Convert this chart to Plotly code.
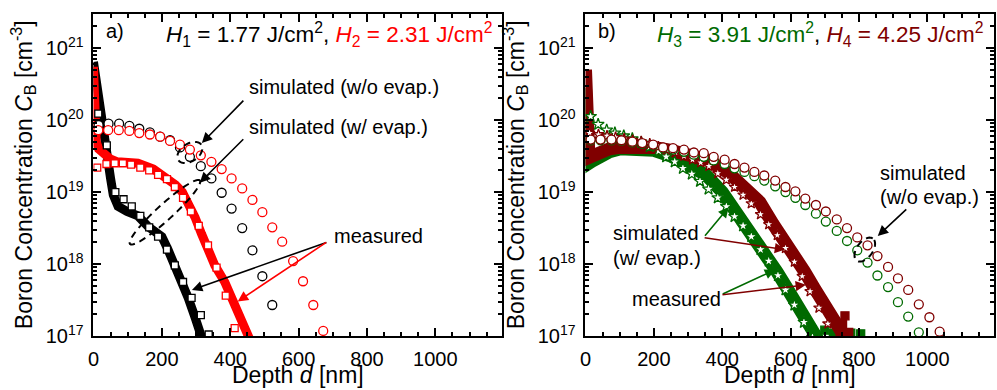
import math
import numpy as np
import plotly.graph_objects as go

# ---------------- data (depth in nm, concentration as log10(C / cm^-3)) ----------------
# Panel a
h1_meas_d   = [0, 10, 18, 29, 40, 50, 58, 72, 98, 130, 160, 200, 218, 238, 262, 277, 297, 316, 322]
h1_meas_log = [20.81, 20.45, 20.13, 19.81, 19.5, 19.19, 18.96, 18.8, 18.73, 18.67, 18.52, 18.38, 18.2, 17.98, 17.75, 17.53, 17.26, 17.0, 16.9]
h2_meas_d   = [0, 2, 4, 8, 15, 29, 49, 70, 100, 130, 175, 215, 240, 260, 280, 297, 316, 335, 355, 384, 404, 422, 442, 456, 462]
h2_meas_log = [20.74, 20.2, 19.8, 19.7, 19.6, 19.53, 19.46, 19.42, 19.42, 19.4, 19.32, 19.2, 19.1, 19.0, 18.84, 18.65, 18.42, 18.2, 17.98, 17.75, 17.53, 17.3, 17.07, 16.98, 16.9]

h1_evap_d   = [14, 39, 64, 88, 112, 137, 163, 189, 215, 238, 262, 287, 314, 337]
h1_evap_log = [20.09, 19.65, 19.0, 18.9, 18.8, 18.67, 18.51, 18.38, 18.2, 17.98, 17.75, 17.53, 17.29, 17.02]
h2_evap_d   = [11, 38, 62, 86, 110, 137, 163, 189, 215, 238, 262, 285, 308, 335, 360, 387, 413]
h2_evap_log = [19.34, 19.39, 19.4, 19.4, 19.38, 19.34, 19.3, 19.24, 19.18, 19.07, 18.92, 18.73, 18.53, 18.26, 17.95, 17.56, 17.11]

h1_noev_d   = [15, 44, 75, 105, 134, 165, 195, 224, 253, 282, 314, 345, 375, 404, 435, 465, 494, 523]
h1_noev_log = [19.93, 19.95, 19.95, 19.92, 19.88, 19.83, 19.77, 19.72, 19.62, 19.49, 19.36, 19.19, 18.99, 18.77, 18.5, 18.19, 17.83, 17.43]
h2_noev_d   = [14, 43, 74, 105, 134, 165, 195, 224, 253, 282, 314, 345, 375, 404, 435, 465, 494, 523, 552, 584, 613, 643, 672]
h2_noev_log = [19.86, 19.86, 19.86, 19.85, 19.82, 19.8, 19.77, 19.71, 19.66, 19.59, 19.51, 19.42, 19.32, 19.19, 19.05, 18.89, 18.72, 18.51, 18.31, 18.04, 17.76, 17.43, 17.07]

# Panel b
h3_meas_d   = [0, 2, 5, 10, 20, 40, 70, 100, 150, 200, 250, 300, 352, 400, 432, 465, 497, 530, 560, 590, 616, 640, 665, 680]
h3_meas_log = [20.45, 20.0, 19.45, 19.4, 19.43, 19.5, 19.56, 19.6, 19.61, 19.58, 19.5, 19.38, 19.24, 19.0, 18.79, 18.56, 18.34, 18.1, 17.89, 17.66, 17.44, 17.24, 17.03, 16.95]
h3_meas_xd  = [700, 725, 776, 805]
h3_meas_xl  = [17.08, 17.04, 17.04, 17.03]
h4_meas_d   = [0, 2, 5, 10, 20, 40, 70, 100, 150, 200, 250, 300, 360, 420, 476, 510, 548, 580, 613, 640, 670, 700, 727, 745, 760]
h4_meas_log = [20.7, 20.1, 19.55, 19.48, 19.5, 19.56, 19.6, 19.62, 19.63, 19.62, 19.58, 19.52, 19.44, 19.26, 19.03, 18.86, 18.56, 18.35, 18.11, 17.9, 17.66, 17.42, 17.21, 17.08, 16.97]
h4_meas_xd  = [752, 759, 770]
h4_meas_xl  = [17.17, 17.28, 17.05]

h3_evap_d   = [15, 37, 62, 86, 112, 137, 163, 188, 214, 236, 261, 285, 311, 335, 360, 387, 412, 436, 461, 485, 512, 536, 563, 585, 611, 639, 664]
h3_evap_log = [20.05, 19.94, 19.86, 19.82, 19.78, 19.74, 19.69, 19.63, 19.57, 19.49, 19.42, 19.33, 19.25, 19.15, 19.04, 18.92, 18.8, 18.66, 18.53, 18.38, 18.2, 18.04, 17.84, 17.64, 17.43, 17.19, 16.98]
h4_evap_d   = [12, 38, 63, 88, 113, 138, 163, 188, 213, 238, 263, 288, 313, 337, 361, 387, 412, 436, 461, 485, 512, 536, 561, 585, 611, 634, 657, 683, 709, 735]
h4_evap_log = [19.82, 19.8, 19.78, 19.76, 19.74, 19.72, 19.7, 19.67, 19.63, 19.59, 19.55, 19.5, 19.45, 19.41, 19.36, 19.26, 19.17, 19.07, 18.96, 18.84, 18.69, 18.55, 18.4, 18.22, 18.03, 17.83, 17.62, 17.39, 17.17, 16.95]

h4_noev_d   = [15, 44, 76, 105, 137, 166, 198, 227, 256, 288, 317, 346, 375, 407, 436, 465, 494, 523, 555, 585, 614, 643, 674, 703, 735, 765, 795, 825, 854, 885, 914, 944, 975, 1006, 1036]
h4_noev_log = [19.73, 19.73, 19.73, 19.72, 19.7, 19.68, 19.66, 19.62, 19.61, 19.59, 19.55, 19.54, 19.49, 19.45, 19.39, 19.34, 19.28, 19.23, 19.16, 19.07, 19.01, 18.91, 18.82, 18.73, 18.62, 18.5, 18.37, 18.26, 18.11, 17.96, 17.8, 17.64, 17.44, 17.26, 17.06]
h3_noev_d   = [15, 44, 76, 105, 137, 166, 198, 227, 256, 288, 317, 346, 375, 407, 436, 465, 494, 523, 555, 585, 614, 643, 674, 703, 735, 765, 795, 825, 854, 885, 914, 944, 975]
h3_noev_log = [19.72, 19.72, 19.72, 19.71, 19.69, 19.67, 19.65, 19.61, 19.59, 19.56, 19.52, 19.49, 19.44, 19.39, 19.33, 19.28, 19.22, 19.16, 19.08, 19.0, 18.92, 18.82, 18.7, 18.59, 18.46, 18.32, 18.19, 18.02, 17.84, 17.68, 17.47, 17.27, 17.05]

# ---------------- style / layout ----------------
BLACK, RED, GREEN, DRED = "#000000", "#ff0000", "#006a00", "#800000"
FONT = "Liberation Sans, Arial, sans-serif"
W, H = 997, 390


def PX(x):
    return x / W


def PY(y):
    return 1 - y / H


XDOM_A = (PX(88), PX(499))
XDOM_B = (PX(583), PX(994))
YDOM = (PY(345.7), PY(14))
XR = (0, 1195)
YR = (17, 21.48)


def c(v):
    return [10.0 ** x for x in v]


fig = go.Figure()


def meas(xa, ya, d, lg, col, w):
    fig.add_trace(go.Scatter(x=d, y=c(lg), mode="lines", line=dict(color=col, width=w),
                             xaxis=xa, yaxis=ya, showlegend=False, hoverinfo="skip"))


def pts(xa, ya, d, lg, col, sym, size, filled=False):
    fig.add_trace(go.Scatter(x=d, y=c(lg), mode="markers",
                             marker=dict(symbol=sym, size=size, color=col if filled else "white",
                                         line=dict(color=col, width=1.3)),
                             xaxis=xa, yaxis=ya, showlegend=False, cliponaxis=True))

# panel a
meas("x", "y", h1_meas_d, h1_meas_log, BLACK, 9)
meas("x", "y", h2_meas_d, h2_meas_log, RED, 9)
pts("x", "y", h1_evap_d, h1_evap_log, BLACK, "square", 7)
pts("x", "y", h2_evap_d, h2_evap_log, RED, "square", 7)
pts("x", "y", h1_noev_d, h1_noev_log, BLACK, "circle", 9)
pts("x", "y", h2_noev_d, h2_noev_log, RED, "circle", 9)

# panel b
meas("x2", "y2", h3_meas_d, h3_meas_log, GREEN, 13)
pts("x2", "y2", h3_meas_xd, h3_meas_xl, GREEN, "square", 8, filled=True)
meas("x2", "y2", h4_meas_d, h4_meas_log, DRED, 13)
pts("x2", "y2", h4_meas_xd, h4_meas_xl, DRED, "square", 8, filled=True)
pts("x2", "y2", h3_evap_d, h3_evap_log, GREEN, "star", 9)
pts("x2", "y2", h4_evap_d, h4_evap_log, DRED, "star", 8)
pts("x2", "y2", h3_noev_d, h3_noev_log, GREEN, "circle", 9)
pts("x2", "y2", h4_noev_d, h4_noev_log, DRED, "circle", 9)

ytickvals = [10.0 ** k for k in range(17, 22)]
yticktext = ["10<sup>%d</sup>" % k for k in range(17, 22)]
yminor = [m * 10.0 ** k for k in range(17, 22) for m in range(2, 10) if math.log10(m * 10.0 ** k) <= YR[1]]

axis_common = dict(showline=True, linecolor="black", linewidth=2, mirror="allticks", ticks="inside",
                   tickcolor="black", tickwidth=1.5, showgrid=False, zeroline=False,
                   tickfont=dict(family=FONT, size=20, color="black"))

xax = dict(axis_common, range=list(XR), tickmode="linear", tick0=0, dtick=200, ticklen=8,
           minor=dict(ticks="inside", dtick=50, ticklen=4, tickcolor="black", tickwidth=1.5),
           ticklabelstandoff=4)
yax = dict(axis_common, type="log", range=list(YR), tickmode="array", tickvals=ytickvals, ticktext=yticktext,
           ticklen=8, minor=dict(ticks="inside", tickvals=yminor, ticklen=4, tickcolor="black", tickwidth=1.5),
           ticklabelstandoff=4,
           title=dict(text="Boron Concentration <i>C</i><sub>B</sub> [cm<sup>-3</sup>]",
                      font=dict(family=FONT, size=23, color="black"), standoff=7))

fig.update_layout(
    width=W, height=H, margin=dict(l=0, r=0, t=0, b=0),
    paper_bgcolor="white", plot_bgcolor="white", showlegend=False,
    font=dict(family=FONT, color="black"),
    xaxis=dict(xax, domain=list(XDOM_A), anchor="y"),
    yaxis=dict(yax, domain=list(YDOM), anchor="x"),
    xaxis2=dict(xax, domain=list(XDOM_B), anchor="y2"),
    yaxis2=dict(yax, domain=list(YDOM), anchor="x2"),
)


def to_paper(panel, d, lg):
    xd = XDOM_A if panel == "a" else XDOM_B
    x = xd[0] + (d - XR[0]) / (XR[1] - XR[0]) * (xd[1] - xd[0])
    y = YDOM[0] + (lg - YR[0]) / (YR[1] - YR[0]) * (YDOM[1] - YDOM[0])
    return x, y


def ellipse(panel, d, lg, a, b, ang):
    x, y = to_paper(panel, d, lg)
    cx, cy = x * W, (1 - y) * H
    th = np.radians(ang)
    t = np.linspace(0, 2 * np.pi, 61)
    px = cx + a * np.cos(t) * np.cos(th) - b * np.sin(t) * np.sin(th)
    py = cy - (a * np.cos(t) * np.sin(th) + b * np.sin(t) * np.cos(th))
    path = "M " + " L ".join("%.5f,%.5f" % (u / W, 1 - v / H) for u, v in zip(px, py)) + " Z"
    fig.add_shape(type="path", path=path, xref="paper", yref="paper",
                  line=dict(color="black", width=2, dash="7px,5px"))


def arrow(panel, d, lg, ax, ay, col):
    x, y = to_paper(panel, d, lg)
    fig.add_annotation(x=x, y=y, xref="paper", yref="paper", ax=ax, ay=ay, text="", showarrow=True,
                       arrowhead=2, arrowsize=1.3, arrowwidth=1.6, arrowcolor=col)


def label(px, py, text, size=20, anchor="left", color="black", yanchor="middle"):
    fig.add_annotation(x=PX(px), y=PY(py), xref="paper", yref="paper", text=text, showarrow=False,
                       xanchor=anchor, yanchor=yanchor, align=anchor if anchor != "center" else "center",
                       font=dict(family=FONT, size=size, color=color))

# x-axis titles (below the tick labels, partly cut by the page edge as in the original)
label((88 + 499) / 2, 370, "Depth <i>d</i> [nm]", 23, "center", yanchor="top")
label((583 + 994) / 2, 370, "Depth <i>d</i> [nm]", 23, "center", yanchor="top")

# panel a annotations
label(99, 32, "a)", 20)
label(491, 36, "<i>H</i><sub>1</sub> = 1.77 J/cm<sup>2</sup>, "
      "<span style='color:%s'><i>H</i><sub>2</sub> = 2.31 J/cm<sup>2</sup></span>" % RED, 22.5, "right")
label(242, 90, "simulated (w/o evap.)")
label(242, 131, "simulated (w/ evap.)")
label(328, 243, "measured")
ellipse("a", 282, 19.55, 14, 9, 35)
ellipse("a", 209, 18.72, 48, 8, 43)
arrow("a", 317, 19.68, 43, -44, BLACK)
arrow("a", 311, 19.13, 45, -45, BLACK)
arrow("a", 288, 17.64, 136, -48, BLACK)
arrow("a", 422, 17.48, 90, -60, RED)

# panel b annotations
label(594, 32, "b)", 20)
label(985, 36, "<span style='color:%s'><i>H</i><sub>3</sub> = 3.91 J/cm<sup>2</sup></span>, "
      "<span style='color:%s'><i>H</i><sub>4</sub> = 4.25 J/cm<sup>2</sup></span>" % (GREEN, DRED), 22.5, "right")
label(877, 178, "simulated")
label(877, 203, "(w/o evap.)")
label(609, 240, "simulated")
label(609, 265, "(w/ evap.)")
label(628, 308, "measured")
ellipse("b", 817, 18.2, 14, 8, 55)
arrow("b", 855, 18.39, 30, -28, BLACK)
arrow("b", 419, 18.79, -25, 30, GREEN)
arrow("b", 584, 18.2, -82, -12, DRED)
arrow("b", 555, 17.92, -54, 25, GREEN)
arrow("b", 645, 17.71, -85, 10, DRED)

# the figure fills the whole window: drop the browser's default page margin, no toolbar
fig.write_html("out.html", config={"displayModeBar": False},
               post_script="document.body.style.margin='0';")
